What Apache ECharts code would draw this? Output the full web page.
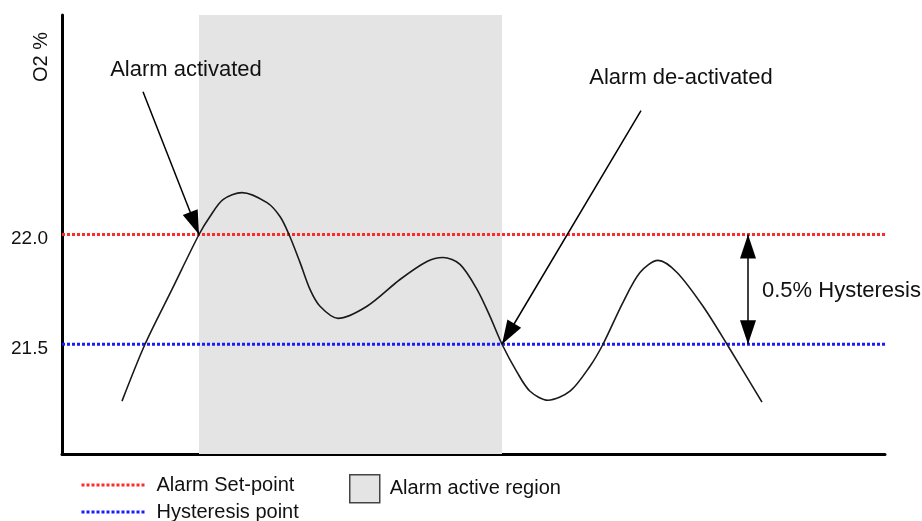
<!DOCTYPE html>
<html>
<head>
<meta charset="utf-8">
<script src="https://cdn.jsdelivr.net/npm/echarts@6/dist/echarts.min.js"></script>
<style>
html,body{margin:0;padding:0;background:#fff;}
#chart{width:922px;height:521px;}
</style>
</head>
<body>
<div id="chart"></div>
<script>
// ---- data ----
const curveX = [60, 83, 110, 137, 148, 161, 180, 205, 218, 227, 238, 248, 258, 276, 305, 338, 365, 381, 398, 415, 428, 440, 455, 468, 486, 508, 528, 541, 561, 578, 596, 615, 641, 665, 700];
const curveY = [21.241, 21.5, 21.75, 22.0, 22.082, 22.159, 22.191, 22.145, 22.082, 22.0, 21.873, 21.75, 21.673, 21.618, 21.673, 21.795, 21.877, 21.895, 21.864, 21.75, 21.627, 21.5, 21.373, 21.286, 21.245, 21.286, 21.4, 21.5, 21.691, 21.827, 21.882, 21.827, 21.673, 21.5, 21.236];
const setPoint = 22.0;
const hysteresisPoint = 21.5;
const activeRegion = [137, 440];
const xRange = [0, 823];
const yRange = [21.0, 23.0];
const yTickValues = [21.5, 22.0];
const lineExtent = [0, 825];
const seriesNames = ['Alarm Set-point', 'Hysteresis point', 'Alarm active region'];
const annotations = [
  { text: 'Alarm activated', at: [124, 22.75], pos: 'inside' },
  { text: 'Alarm de-activated', at: [619, 22.714], pos: 'inside' },
  { text: '0.5% Hysteresis', at: [700, 21.741], pos: 'right' }
];
const arrows = [
  { from: [81, 22.65], to: [137, 22.0], both: false },
  { from: [579, 22.564], to: [440, 21.5], both: false },
  { from: [686, 22.0], to: [686, 21.5], both: true }
];

const FONT = 'Liberation Sans, Arial, sans-serif';
const chart = echarts.init(document.getElementById('chart'), null, { renderer: 'canvas' });

const headSize = [16, 24];
function arrowData(a) {
  const end = { coord: a.to, symbol: 'triangle', symbolSize: headSize, symbolOffset: [0, 12] };
  const start = a.both
    ? { coord: a.from, symbol: 'triangle', symbolSize: headSize, symbolOffset: [0, 12] }
    : { coord: a.from, symbol: 'none' };
  return [start, end];
}

function lineLegend(name, top, color) {
  return {
    data: [name], left: 80, top: top, padding: 0,
    itemWidth: 63, itemHeight: 14,
    selectedMode: false,
    itemStyle: { opacity: 0 },
    lineStyle: { width: 3, color: color, type: [3, 2] },
    textStyle: { fontSize: 20, fontFamily: FONT, color: '#111', lineHeight: 20, padding: [0, 0, 0, 7] }
  };
}

const option = {
  animation: false,
  backgroundColor: '#fff',
  grid: { left: 62, right: 37, top: 15, bottom: 67, outerBoundsMode: 'none', containLabel: false },
  xAxis: {
    type: 'value', min: xRange[0], max: xRange[1],
    axisLine: { show: true, onZero: false, lineStyle: { color: '#000', width: 3 } },
    axisTick: { show: false }, axisLabel: { show: false }, splitLine: { show: false }
  },
  yAxis: {
    type: 'value', min: yRange[0], max: yRange[1],
    axisLine: { show: true, onZero: false, lineStyle: { color: '#000', width: 3 } },
    axisTick: { show: false },
    axisLabel: {
      customValues: yTickValues, margin: 14,
      formatter: v => '{t|' + Number(v).toFixed(1) + '}',
      rich: { t: { color: '#111', fontSize: 19, fontFamily: FONT, padding: [9, 0, 0, 0] } }
    },
    splitLine: { show: false }
  },
  legend: [
    lineLegend(seriesNames[0], 475, '#ff2a2a'),
    lineLegend(seriesNames[1], 502, '#1a1aff'),
    {
      data: [{ name: seriesNames[2], icon: 'rect' }],
      left: 349, top: 474, padding: 0,
      itemWidth: 30, itemHeight: 28,
      selectedMode: false,
      itemStyle: { borderColor: '#444', borderWidth: 1.5 },
      textStyle: { fontSize: 20, fontFamily: FONT, color: '#111', padding: [0, 0, 0, 5] }
    }
  ],
  graphic: [
    { type: 'text', left: 31, top: 32, rotation: Math.PI / 2,
      style: { text: 'O2 %', fontSize: 20, fontFamily: FONT, fill: '#111' } }
  ],
  series: [
    {
      name: seriesNames[2], type: 'line', data: [], z: 1,
      color: '#e4e4e4', symbol: 'none',
      markArea: {
        silent: true,
        itemStyle: { color: '#e4e4e4' },
        data: [[{ coord: [activeRegion[0], yRange[1]] }, { coord: [activeRegion[1], yRange[0]] }]]
      }
    },
    {
      name: seriesNames[0], type: 'line', z: 3, clip: false,
      data: [[lineExtent[0], setPoint], [lineExtent[1], setPoint]],
      symbol: 'none', color: '#ff2a2a',
      lineStyle: { color: '#ff2a2a', width: 3, type: [3, 2] }
    },
    {
      name: seriesNames[1], type: 'line', z: 3, clip: false,
      data: [[lineExtent[0], hysteresisPoint], [lineExtent[1], hysteresisPoint]],
      symbol: 'none', color: '#1a1aff',
      lineStyle: { color: '#1a1aff', width: 3, type: [3, 2] }
    },
    {
      name: 'O2', type: 'line', z: 4,
      data: curveX.map((x, i) => [x, curveY[i]]),
      smooth: 0.3, symbol: 'none',
      lineStyle: { color: '#1a1a1a', width: 1.6 },
      markLine: {
        silent: true, animation: false,
        label: { show: false },
        lineStyle: { color: '#000', width: 1.5, type: 'solid' },
        itemStyle: { color: '#000' },
        emphasis: { disabled: true },
        data: arrows.map(arrowData)
      },
      markPoint: {
        silent: true, animation: false,
        symbol: 'circle', symbolSize: 0,
        itemStyle: { color: 'rgba(0,0,0,0)' },
        data: annotations.map(a => ({
          name: a.text, coord: a.at,
          label: { show: true, position: a.pos, distance: 0, formatter: '{b}',
                   fontSize: 22, fontFamily: FONT, color: '#111' }
        }))
      }
    }
  ]
};
chart.setOption(option);
</script>
</body>
</html>
